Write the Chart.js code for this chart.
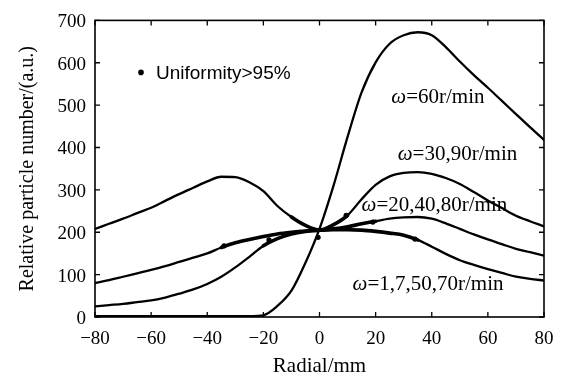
<!DOCTYPE html>
<html>
<head>
<meta charset="utf-8">
<script src="https://cdn.jsdelivr.net/npm/chart.js@4.4.1/dist/chart.umd.min.js"></script>
<style>
html,body{margin:0;padding:0;background:#fff;}
#wrap{width:567px;height:377px;}
</style>
</head>
<body>
<div id="wrap"><canvas id="c" width="567" height="377"></canvas></div>
<script>
// ---- data ----
const radial = [-80,-75,-70,-65,-60,-55,-50,-45,-40,-35,-30,-25,-20,-15,-10,-5,0,
                5,10,15,20,25,30,35,40,45,50,55,60,65,70,75,80];
const w60 = [2,2,2,2,2,2,2,2,2,2,2,2,4,26,62,128,208,
             310,425,530,601,645,665,672,665,637,603,571,541,510,479,448,418];
const w3090 = [208,220,232,245,258,274,290,305,320,331,330,318,297,262,236,216,205,
               218,240,278,312,332,340,342,338,328,314,295,275,257,239,226,214];
const w204080 = [80,87,95,103,111,120,130,140,150,164,175,183,190,196,200,203,205,
                 208,213,220,226,232,235,236,232,221,208,195,183,172,161,153,145];
const w1757 = [25,28,31,35,39,46,55,65,78,95,117,142,168,185,196,202,205,
               206,206,205,202,198,193,182,166,149,134,123,113,104,95,90,86];
const uniformX = [-34,-18,-0.5,9.5,19,34];
const uniformY = [168,182,188,240,224,184];
const xTicks = [-80,-60,-40,-20,0,20,40,60,80];
const yTicks = [0,100,200,300,400,500,600,700];
const curveLabels = [
  {x:25.6, y:517, rest:'=60r/min'},
  {x:27.9, y:383, rest:'=30,90r/min'},
  {x:15.0, y:263, rest:'=20,40,80r/min'},
  {x:11.8, y:77,  rest:'=1,7,50,70r/min'}
];
const thick = {w3090:[-10,10], w204080:[-35,20], w1757:[-20,35]};

const SERIF = '"Liberation Serif", "Times New Roman", serif';
const SANS = '"Liberation Sans", Arial, sans-serif';

function pts(ys){ return radial.map((x,i)=>({x:x,y:ys[i]})); }
function seg(range){
  return { borderWidth: ctx => {
    const a = ctx.p0.parsed.x, b = ctx.p1.parsed.x;
    return (a >= range[0] && b <= range[1]) ? 3.6 : 2.3;
  }};
}
function lineDs(label, ys, range){
  const d = {type:'line', label:label, data:pts(ys), borderColor:'#000', borderWidth:2.3,
    pointRadius:0, cubicInterpolationMode:'monotone', fill:false,
    borderJoinStyle:'round', borderCapStyle:'round'};
  if (range) d.segment = seg(range);
  return d;
}

const framePlugin = {
  id:'frame',
  afterDraw(chart){
    const {ctx, chartArea:a, scales:{x,y}} = chart;
    ctx.save();
    ctx.strokeStyle = '#000';
    ctx.lineWidth = 1.6;
    ctx.strokeRect(a.left, a.top, a.right-a.left, a.bottom-a.top);
    ctx.lineWidth = 1.3;
    const L = 5;
    ctx.beginPath();
    xTicks.forEach(v=>{
      const px = x.getPixelForValue(v);
      ctx.moveTo(px, a.bottom); ctx.lineTo(px, a.bottom-L);
      ctx.moveTo(px, a.top); ctx.lineTo(px, a.top+L);
    });
    yTicks.forEach(v=>{
      const py = y.getPixelForValue(v);
      ctx.moveTo(a.left, py); ctx.lineTo(a.left+L, py);
      ctx.moveTo(a.right, py); ctx.lineTo(a.right-L, py);
    });
    ctx.stroke();

    // curve labels
    ctx.fillStyle = '#000';
    ctx.textBaseline = 'middle';
    ctx.textAlign = 'left';
    curveLabels.forEach(l=>{
      const px = x.getPixelForValue(l.x), py = y.getPixelForValue(l.y);
      ctx.font = 'italic 21px ' + SERIF;
      ctx.fillText('\u03c9', px, py);
      const w = ctx.measureText('\u03c9').width;
      ctx.font = '21px ' + SERIF;
      ctx.fillText(l.rest, px + w, py);
    });

    // legend
    const lx = a.left + 46, ly = a.top + 52;
    ctx.beginPath();
    ctx.arc(lx, ly, 2.8, 0, Math.PI*2);
    ctx.fill();
    ctx.font = '19px ' + SANS;
    ctx.fillText('Uniformity>95%', lx + 15, ly + 1);
    ctx.restore();
  }
};

new Chart(document.getElementById('c'), {
  data:{
    datasets:[
      lineDs('\u03c9=60r/min', w60, null),
      lineDs('\u03c9=30,90r/min', w3090, thick.w3090),
      lineDs('\u03c9=20,40,80r/min', w204080, thick.w204080),
      lineDs('\u03c9=1,7,50,70r/min', w1757, thick.w1757),
      {type:'scatter', label:'Uniformity>95%', data:uniformX.map((x,i)=>({x:x,y:uniformY[i]})),
       pointRadius:2.6, pointBackgroundColor:'#000', pointBorderWidth:0, showLine:false}
    ]
  },
  options:{
    responsive:false,
    animation:false,
    events:[],
    layout:{padding:{top:19, right:23, left:0, bottom:0}},
    plugins:{legend:{display:false}, tooltip:{enabled:false}},
    scales:{
      x:{
        type:'linear', min:-80, max:80,
        afterBuildTicks(s){ s.ticks = xTicks.map(v=>({value:v})); },
        afterFit(s){ s.height = 60; },
        grid:{display:false, drawTicks:false},
        border:{display:false},
        ticks:{color:'#000', padding:11, maxRotation:0, autoSkip:false,
          font:{family:SERIF, size:19},
          callback:v=> String(v).replace('-', '\u2212')},
        title:{display:true, text:'Radial/mm', color:'#000',
          font:{family:SERIF, size:21, lineHeight:1}, padding:{top:0,bottom:0}}
      },
      y:{
        type:'linear', min:0, max:700,
        afterBuildTicks(s){ s.ticks = yTicks.map(v=>({value:v})); },
        afterFit(s){ s.width = 95; },
        grid:{display:false, drawTicks:false},
        border:{display:false},
        ticks:{color:'#000', padding:9, autoSkip:false, labelOffset:2,
          font:{family:SERIF, size:19}},
        title:{display:true, text:'Relative particle number/(a.u.)', color:'#000',
          font:{family:SERIF, size:20, lineHeight:1.2}, padding:{top:16,bottom:0}}
      }
    }
  },
  plugins:[framePlugin]
});
</script>
</body>
</html>
